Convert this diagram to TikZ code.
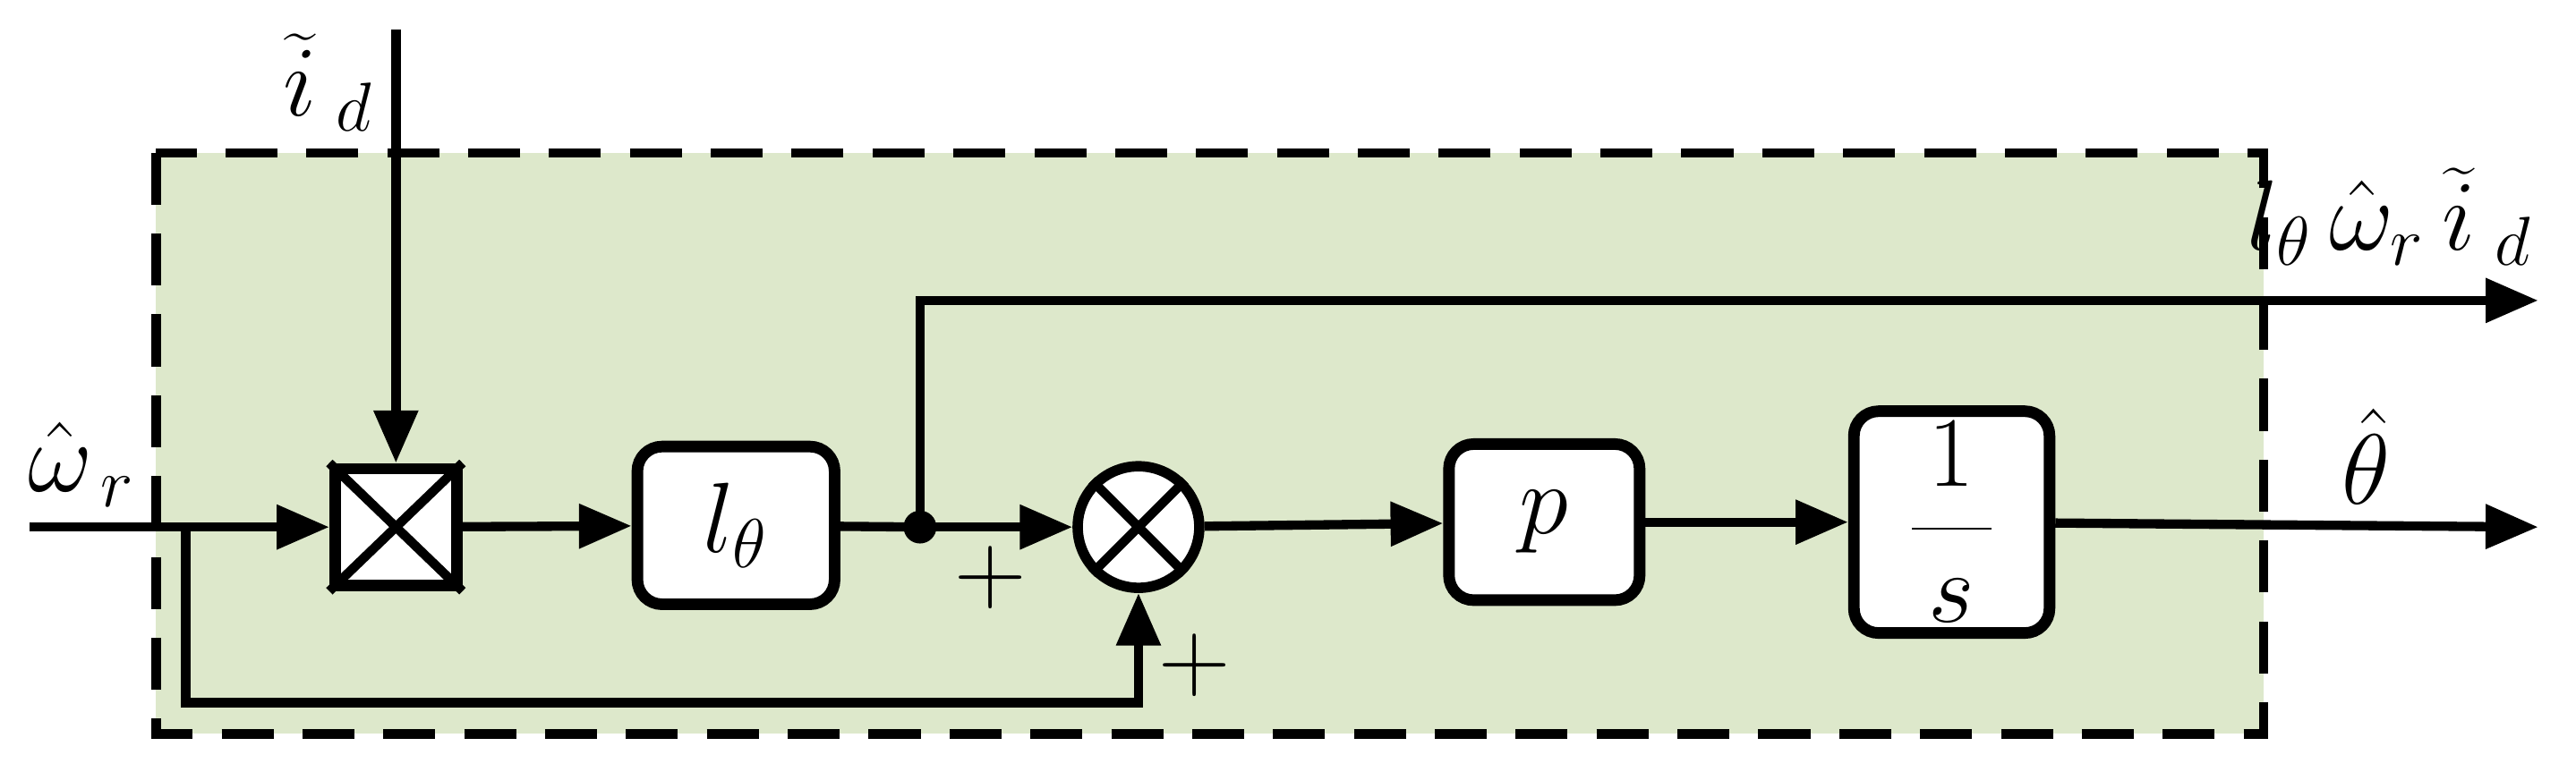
\documentclass[tikz,border=0pt]{standalone}
\usetikzlibrary{arrows.meta}
\definecolor{bg}{HTML}{DDE8CB}
\begin{document}
\begin{tikzpicture}[x=0.01cm,y=-0.01cm,
  ln/.style={line width=1.6pt},
  ar/.style={ln,-{Triangle[length=0.32cm,width=0.26cm]}},
  blk/.style={draw,line width=2pt,rounded corners=0.15cm,fill=white,inner sep=0pt},
  lab/.style={font=\fontsize{17}{20}\selectfont}]
\useasboundingbox (0,0) rectangle (1568,470);
\draw[fill=bg,dashed,line width=1.6pt,dash pattern=on 9pt off 5pt] (95,93) rectangle (1378,447);
\coordinate (in) at (18,321);
\coordinate (itop) at (241,18);
\coordinate (fb) at (113,321);
\node[draw,line width=2pt,fill=white,minimum width=0.74cm,minimum height=0.71cm] (mul) at (241,321) {};
\draw[line width=1.6pt] (mul.north west)--(mul.south east) (mul.north east)--(mul.south west);
\node[blk,minimum width=1.2cm,minimum height=0.96cm] (lt) at (448,320) {};
\node[lab] at (lt) {$l_\theta$};
\node[circle,draw,line width=1.8pt,fill=white,minimum size=0.74cm,inner sep=0pt] (sum) at (693,321) {};
\draw[line width=1.6pt] (sum.north west)--(sum.south east) (sum.north east)--(sum.south west);
\node[blk,minimum width=1.16cm,minimum height=0.95cm] (p) at (940,318) {};
\node[lab] at (p) {$p$};
\node[blk,minimum width=1.19cm,minimum height=1.35cm] (int) at (1188,318) {};
\node[lab] at (int) {$\displaystyle\frac{\,1\,}{\,s\,}$};
\fill (560,321) circle (0.1cm);
\coordinate (dot) at (560,321);
\coordinate (o1) at (1545,183);
\coordinate (o2) at (1545,321);
\draw[ar] (in) -- (mul);
\draw[ar] (itop) -- (mul);
\draw[ar] (mul) -- (lt);
\draw[ln] (lt) -- (dot);
\draw[ar] (dot) -- (sum);
\draw[ar] (dot) |- (o1);
\draw[ar] (fb) |- (693,428) -- (sum);
\draw[ar] (sum) -- (p);
\draw[ar] (p) -- (int);
\draw[ar] (int) -- (o2);
\node[lab] at (50,283) {$\hat\omega_{\,r}$};
\node[lab] at (200,50) {$\widetilde{i}_{\;d}$};
\node[lab] at (1455,132) {$l_\theta\,\hat\omega_r\,\widetilde{i}_{\;d}$};
\node[lab] at (1440,278) {$\hat\theta$};
\node[lab] at (603,352) {$+$};
\node[lab] at (727,405) {$+$};
\end{tikzpicture}
\end{document}
